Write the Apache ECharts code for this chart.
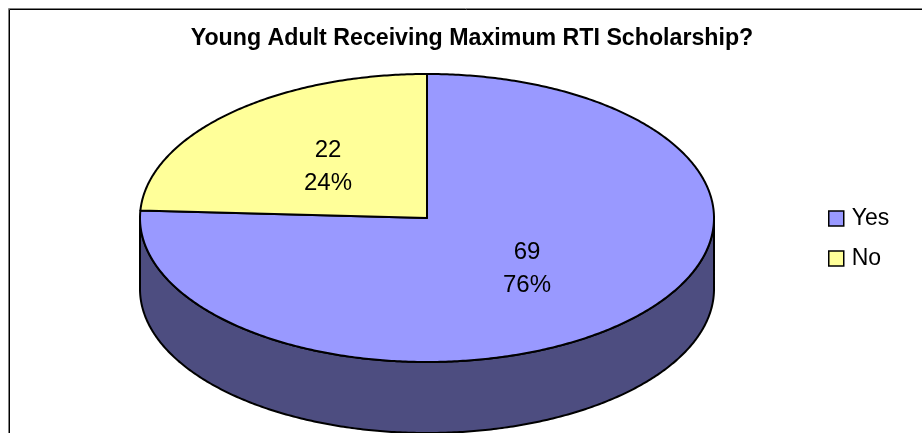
<!DOCTYPE html>
<html>
<head>
<meta charset="utf-8">
<style>
  html, body { margin: 0; padding: 0; background: #fff; overflow: hidden; }
  #main { width: 922px; height: 433px; }
</style>
</head>
<body>
<div id="main"></div>
<script src="https://cdn.jsdelivr.net/npm/echarts@6/dist/echarts.min.js"></script>
<script>
const titleText = 'Young Adult Receiving Maximum RTI Scholarship?';
const categories = ['Yes', 'No'];
const counts = [69, 22];
const percentLabels = ['76%', '24%'];
const topColors = ['#9999ff', '#ffff99'];
const sideColors = ['#4d4d80', '#80804d'];

// tilted pie geometry
const cx = 427, cy = 218, rx = 287, ry = 144, depth = 71;
const FONT = '"Liberation Sans", Arial, sans-serif';

const total = counts.reduce((a, b) => a + b, 0);

// angle is clockwise from 12 o'clock
function rimPoint(a, dy) {
  return [cx + rx * Math.sin(a), cy - ry * Math.cos(a) + (dy || 0)];
}

function arcPoints(a0, a1, dy) {
  const pts = [];
  const n = Math.max(2, Math.ceil(Math.abs(a1 - a0) / 0.01));
  for (let i = 0; i <= n; i++) {
    pts.push(rimPoint(a0 + (a1 - a0) * i / n, dy));
  }
  return pts;
}

function sliceRange(idx) {
  let before = 0;
  for (let i = 0; i < idx; i++) before += counts[i];
  return [before / total * Math.PI * 2, (before + counts[idx]) / total * Math.PI * 2];
}

function renderSlice(idx) {
  return function () {
    const range = sliceRange(idx);
    const children = [];
    const lineStyle = { stroke: '#000', lineWidth: 2, lineJoin: 'round' };

    // only the front half (90deg to 270deg) of the wall can be seen
    const s0 = Math.max(range[0], Math.PI / 2);
    const s1 = Math.min(range[1], Math.PI * 1.5);
    if (s1 > s0) {
      children.push({
        type: 'polygon',
        shape: { points: arcPoints(s0, s1, 0).concat(arcPoints(s1, s0, depth)) },
        style: Object.assign({ fill: sideColors[idx] }, lineStyle)
      });
    }

    children.push({
      type: 'polygon',
      shape: { points: [[cx, cy]].concat(arcPoints(range[0], range[1], 0)) },
      style: Object.assign({ fill: topColors[idx] }, lineStyle)
    });
    return { type: 'group', children: children };
  };
}

function renderLabel(idx) {
  const anchors = [[527, 269], [328, 167]];
  return function () {
    return {
      type: 'text',
      style: {
        x: anchors[idx][0],
        y: anchors[idx][1],
        text: counts[idx] + '\n' + percentLabels[idx],
        fill: '#000',
        font: '24px ' + FONT,
        lineHeight: 33,
        align: 'center',
        verticalAlign: 'middle'
      }
    };
  };
}

const series = categories.map(function (name, idx) {
  return {
    name: name,
    type: 'custom',
    coordinateSystem: 'none',
    silent: true,
    animation: false,
    itemStyle: { color: topColors[idx] },
    data: [counts[idx]],
    renderItem: renderSlice(idx)
  };
});

categories.forEach(function (name, idx) {
  series.push({
    type: 'custom',
    coordinateSystem: 'none',
    silent: true,
    animation: false,
    z: 5,
    data: [counts[idx]],
    renderItem: renderLabel(idx)
  });
});

const chart = echarts.init(document.getElementById('main'), null, { renderer: 'canvas' });
chart.setOption({
  animation: false,
  backgroundColor: '#fff',
  title: {
    text: titleText,
    left: 467,
    top: 22,
    textAlign: 'center',
    textStyle: { color: '#000', fontFamily: FONT, fontWeight: 'bold', fontSize: 23.2 }
  },
  legend: {
    data: categories,
    orient: 'vertical',
    left: 823,
    top: 202,
    icon: 'rect',
    itemWidth: 15,
    itemHeight: 15,
    itemGap: 17,
    selectedMode: false,
    itemStyle: { borderColor: '#000', borderWidth: 1.5 },
    textStyle: { color: '#000', fontFamily: FONT, fontSize: 23, padding: [0, 0, 0, 3] }
  },
  // frame runs off the right and bottom of the picture, only top and left show
  graphic: [{
    type: 'rect',
    silent: true,
    z: -2,
    shape: { x: 8.5, y: 8.5, width: 1000, height: 600 },
    style: { fill: 'none', stroke: '#808080', lineWidth: 1 }
  }, {
    type: 'rect',
    silent: true,
    z: -1,
    shape: { x: 9.5, y: 9.5, width: 1000, height: 600 },
    style: { fill: 'none', stroke: '#000', lineWidth: 1 }
  }],
  series: series
});
</script>
</body>
</html>
